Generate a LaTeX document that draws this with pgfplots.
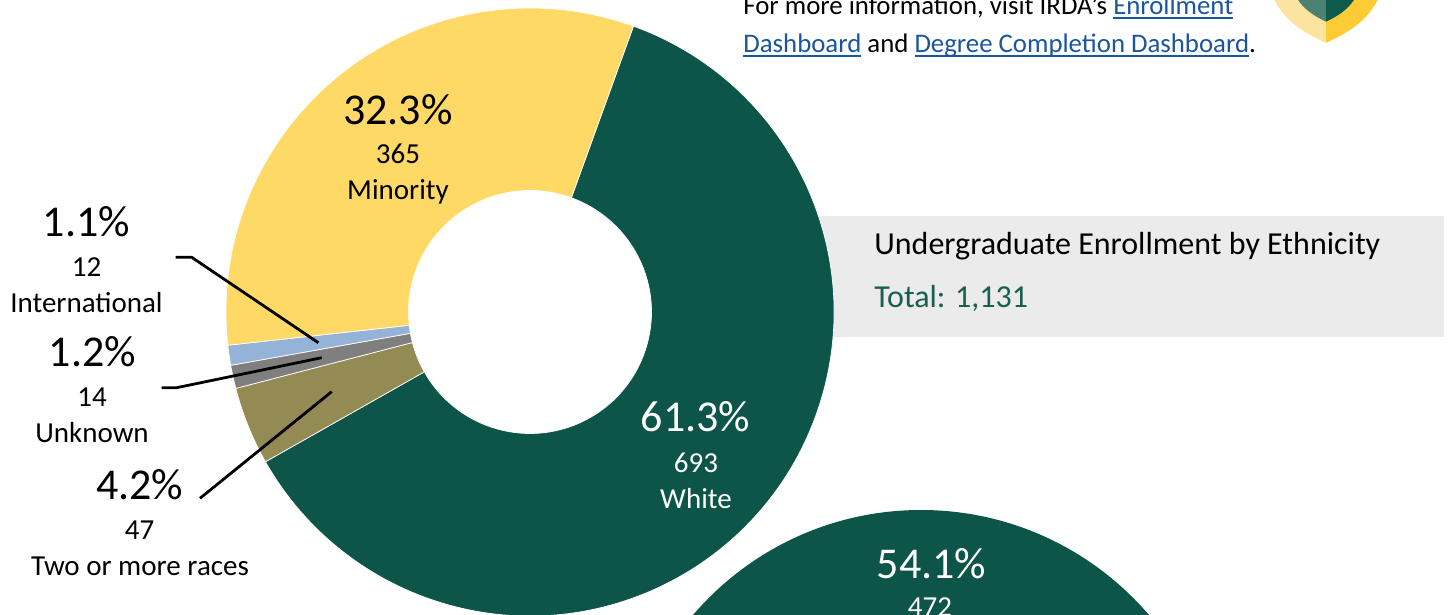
\documentclass[border=0pt]{standalone}
\usepackage{pgfplots}
\pgfplotsset{compat=1.18}
\usepackage{fontspec}
\setmainfont{Carlito}

\definecolor{dgreen}{HTML}{0D5549}
\definecolor{gold}{HTML}{FFD966}
\definecolor{lblue}{HTML}{95B3D7}
\definecolor{mgray}{HTML}{7F7F7F}
\definecolor{olive}{HTML}{948A54}
\definecolor{boxgray}{HTML}{EBEBEB}
\definecolor{linkblue}{HTML}{1A55A0}
\definecolor{totgreen}{HTML}{17604F}
\definecolor{shpale}{HTML}{FCE3A0}
\definecolor{shgold}{HTML}{FDCB33}
\definecolor{shlight}{HTML}{4C8273}
\definecolor{shdark}{HTML}{0E5A4B}

% donut: centre (530,312), outer r 304px, inner r 121.5px, white slice starts 19.9 deg right of top
\newcommand\slice[3]{%
  \pgfmathsetmacro\slA{70.1-#1/1131*360}%
  \pgfmathsetmacro\slB{70.1-(#1+#2)/1131*360}%
  \edef\slcmd{\noexpand\fill[#3, draw=white, line width=0.35pt] (axis cs:530,312) ++(\slA:152pt)
    arc[start angle=\slA, end angle=\slB, radius=152pt]
    -- ++(\slB:-91.25pt)
    arc[start angle=\slB, end angle=\slA, radius=60.75pt] -- cycle;}%
  \slcmd}

\newcommand\pct{\fontsize{22}{26}\selectfont}
\newcommand\lbl{\fontsize{14.5}{17}\selectfont}
\newcommand\ulink[1]{\textcolor{linkblue}{\setbox0\hbox{#1}\rlap{\rule[-2pt]{\wd0}{0.8pt}}\box0}}

\begin{document}
\begin{tikzpicture}
\useasboundingbox (0,0) rectangle (724pt,307.5pt);
\begin{axis}[at={(0,0)}, anchor=south west, x=0.5pt, y=0.5pt, y dir=reverse,
  xmin=0, xmax=1448, ymin=0, ymax=615, hide axis, clip=true]
\addplot[draw=none, forget plot] coordinates {(0,0) (1448,615)};

% grey title box
\fill[boxgray] (axis cs:700,216) rectangle (axis cs:1444,337);

% second donut (only its top is in view)
\fill[dgreen, even odd rule] (axis cs:921,810) circle[radius=150pt] (axis cs:921,810) circle[radius=60pt];

% donut slices: start count, count, colour
\slice{0}{693}{dgreen}
\slice{693}{47}{olive}
\slice{740}{14}{mgray}
\slice{754}{12}{lblue}
\slice{766}{365}{gold}

% leader lines
\draw[line width=1.4pt] (axis cs:175.7,257.3) -- (axis cs:191.7,257.3) -- (axis cs:318.3,342.7);
\draw[line width=1.4pt] (axis cs:161.7,387.7) -- (axis cs:176.7,387.7) -- (axis cs:321.7,357.7);
\draw[line width=1.4pt] (axis cs:200,498.3) -- (axis cs:331.7,391.7);

% labels
\node[anchor=base, inner sep=0, font=\pct] at (axis cs:398,124.7) {32.3\%};
\node[anchor=base, inner sep=0, font=\lbl] at (axis cs:398,164) {365};
\node[anchor=base, inner sep=0, font=\lbl] at (axis cs:398,200) {Minority};

\node[anchor=base, inner sep=0, font=\pct, white] at (axis cs:695.5,431) {61.3\%};
\node[anchor=base, inner sep=0, font=\lbl, white] at (axis cs:696,472.5) {693};
\node[anchor=base, inner sep=0, font=\lbl, white] at (axis cs:696,508) {White};

\node[anchor=base, inner sep=0, font=\pct] at (axis cs:86.5,236.7) {1.1\%};
\node[anchor=base, inner sep=0, font=\lbl] at (axis cs:86.5,276.7) {12};
\node[anchor=base, inner sep=0, font=\lbl] at (axis cs:86.5,312.7) {International};

\node[anchor=base, inner sep=0, font=\pct] at (axis cs:92.5,366) {1.2\%};
\node[anchor=base, inner sep=0, font=\lbl] at (axis cs:92,406) {14};
\node[anchor=base, inner sep=0, font=\lbl] at (axis cs:92,442) {Unknown};

\node[anchor=base, inner sep=0, font=\pct] at (axis cs:139.7,499.3) {4.2\%};
\node[anchor=base, inner sep=0, font=\lbl] at (axis cs:139.5,539.3) {47};
\node[anchor=base, inner sep=0, font=\lbl] at (axis cs:140,575) {Two or more races};

\node[anchor=base, inner sep=0, font=\pct, white] at (axis cs:931.5,578) {54.1\%};
\node[anchor=base, inner sep=0, font=\lbl, white] at (axis cs:930,616) {472};

% title box text
\node[anchor=base west, inner sep=0, font=\fontsize{16}{19}\selectfont] at (axis cs:874,255) {Undergraduate Enrollment by Ethnicity};
\node[anchor=base west, inner sep=0, font=\fontsize{16}{19}\selectfont, totgreen] at (axis cs:874,307) {Total: 1,131};

% top note
\node[anchor=base west, inner sep=0, font=\fontsize{13.4}{16}\selectfont] at (axis cs:743,15) {For more information, visit IRDA’s \ulink{Enrollment}};
\node[anchor=base west, inner sep=0, font=\fontsize{13.4}{16}\selectfont] at (axis cs:743,52.7) {\ulink{Dashboard} and \ulink{Degree Completion Dashboard}.};

% shield logo corner
\fill[shpale] (axis cs:1272,-5) .. controls (axis cs:1283,20) and (axis cs:1302,32) .. (axis cs:1326,42.7) -- (axis cs:1326,-5) -- cycle;
\fill[shgold] (axis cs:1380,-5) .. controls (axis cs:1369,20) and (axis cs:1350,32) .. (axis cs:1326,42.7) -- (axis cs:1326,-5) -- cycle;
\fill[shlight] (axis cs:1295,-5) .. controls (axis cs:1302,8) and (axis cs:1312,15) .. (axis cs:1326,21.7) -- (axis cs:1326,-5) -- cycle;
\fill[shdark] (axis cs:1357,-5) .. controls (axis cs:1350,8) and (axis cs:1340,15) .. (axis cs:1326,21.7) -- (axis cs:1326,-5) -- cycle;
\end{axis}
\end{tikzpicture}
\end{document}
